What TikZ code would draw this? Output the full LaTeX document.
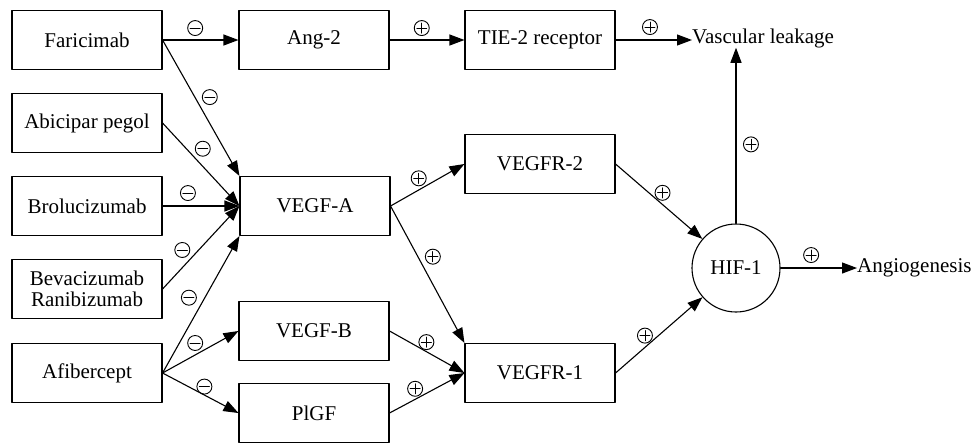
\documentclass[tikz,border=0pt]{standalone}
\usepackage{amsmath}
\usepackage{amssymb}
\usepackage{fontspec}
\setmainfont{Liberation Serif}
\usetikzlibrary{arrows.meta,positioning}
\begin{document}
\begin{tikzpicture}[line cap=round,line join=round,>={Triangle[length=15pt,width=11pt]},x=1pt,y=-1pt,
  font=\fontsize{21}{24}\selectfont,
  box/.style={draw,line width=1.1pt,minimum width=150pt,minimum height=59pt,inner sep=0pt,align=center},
  arr/.style={->,line width=1.1pt},
  sgn/.style={draw,circle,line width=0.9pt,minimum size=15pt,inner sep=0pt},
  minus/.style={sgn,path picture={\draw[-,line width=0.9pt] ([xshift=-5pt]path picture bounding box.center) -- ([xshift=5pt]path picture bounding box.center);}},
  plus/.style={sgn,path picture={\draw[-,line width=0.9pt] ([xshift=-5pt]path picture bounding box.center) -- ([xshift=5pt]path picture bounding box.center)
      ([yshift=-5pt]path picture bounding box.center) -- ([yshift=5pt]path picture bounding box.center);}}]
\useasboundingbox (0,0) rectangle (973,442);
\node[box] (fari) at (87,40) {Faricimab};
\node[box] (abic) at (87,123) {Abicipar pegol};
\node[box] (brol) at (87,206) {Brolucizumab};
\node[box] (beva) at (87,289) {Bevacizumab\\[-3pt]Ranibizumab};
\node[box] (afib) at (87,373) {Afibercept};
\node[box] (ang) at (314,40) {Ang-2};
\node[box] (vegfa) at (315,206) {VEGF-A};
\node[box] (vegfb) at (314,331) {VEGF-B};
\node[box] (plgf) at (314,413) {PlGF};
\node[box] (tie) at (540,40) {TIE-2 receptor};
\node[box] (vr2) at (540,164) {VEGFR-2};
\node[box] (vr1) at (540,373) {VEGFR-1};
\node[draw,circle,line width=1.1pt,minimum size=88pt,inner sep=0pt] (hif) at (736,268) {HIF-1};
\node[anchor=west,inner sep=0pt] (vasc) at (692,38) {Vascular leakage};
\node[anchor=west,inner sep=0pt] (angio) at (857,268) {Angiogenesis};
\draw[arr] (fari.east) -- node[minus,pos=0.43,above=4pt] {} (ang.west);
\draw[arr] (ang.east) -- node[plus,pos=0.43,above=4pt] {} (tie.west);
\draw[arr] (tie.east) -- node[plus,pos=0.45,above=5pt] {} (vasc.west |- tie.east);
\draw[arr] (fari.east) -- node[minus,pos=0.42,right=7pt] {} (vegfa.north west);
\draw[arr] (abic.east) -- node[minus,pos=0.45,above right=6pt and 0pt] {} (vegfa.west);
\draw[arr] (brol.east) -- node[minus,pos=0.33,above=5pt] {} (vegfa.west);
\draw[arr] (beva.east) -- node[minus,pos=0.33,above left=6pt and 0pt] {} (vegfa.west);
\draw[arr] (afib.east) -- node[minus,pos=0.55,left=8pt] {} (vegfa.south west);
\draw[arr] (afib.east) -- node[minus,pos=0.43,above=4pt] {} (vegfb.west);
\draw[arr] (afib.east) -- node[minus,pos=0.53,above right=2pt and -4pt] {} (plgf.west);
\draw[arr] (vegfa.east) -- node[plus,pos=0.43,above left=4pt and -2pt] {} (vr2.west);
\draw[arr] (vegfa.east) -- node[plus,pos=0.37,right=7pt] {} (vr1.north west);
\draw[arr] (vegfb.east) -- node[plus,pos=0.47,above right=3pt and -4pt] {} (vr1.west);
\draw[arr] (plgf.east) -- node[plus,pos=0.39,above left=3pt and -2pt] {} (vr1.west);
\draw[arr] (vr2.east) -- node[plus,pos=0.5,above right=3pt and -2pt] {} (hif);
\draw[arr] (vr1.east) -- node[plus,pos=0.38,above left=3pt and -2pt] {} (hif);
\draw[arr] (hif.north) -- node[plus,pos=0.45,right=7pt] {} (hif.north |- vasc.south);
\draw[arr] (hif.east) -- node[plus,pos=0.4,above=5pt] {} (angio.west);
\end{tikzpicture}
\end{document}
